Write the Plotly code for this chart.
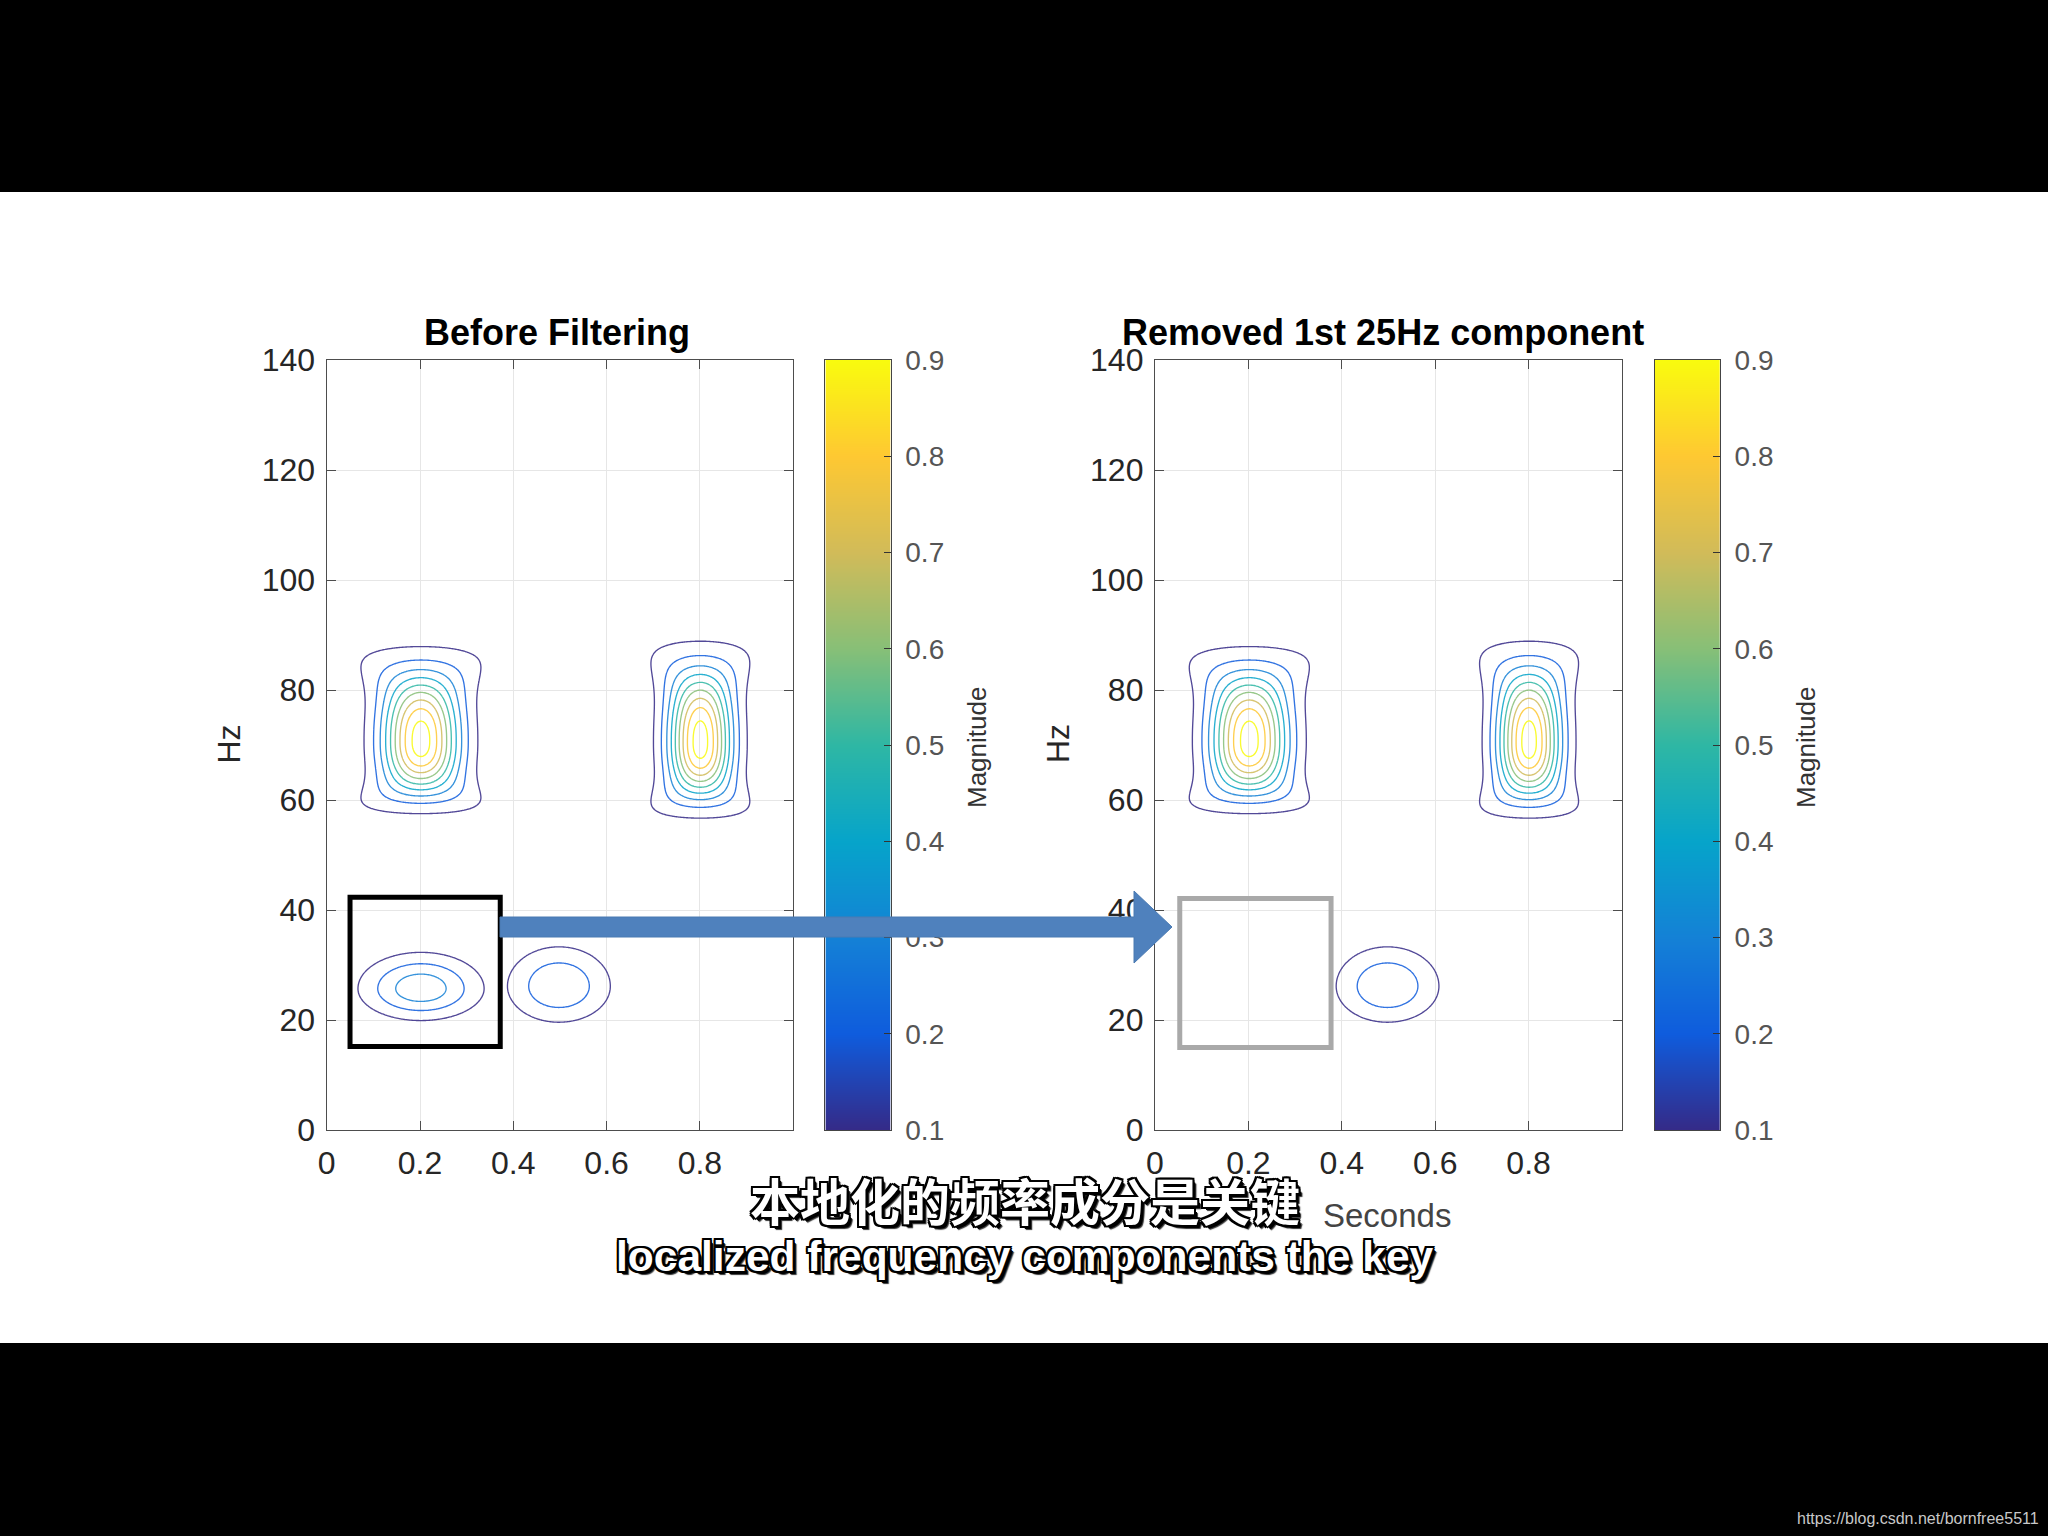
import numpy as np
import plotly.graph_objects as go

W, H = 2048, 1536

# ---------------- data ----------------
time_s = np.round(np.arange(0, 1.0001, 0.0025), 4)      # Seconds grid
freq_hz = np.round(np.arange(0, 140.001, 0.25), 3)      # Hz grid

# localized frequency components (centre time, centre freq, peak magnitude, spreads)
comp_t0 = [0.202, 0.801, 0.202, 0.498]
comp_f0 = [70.7, 70.5, 25.7, 26.15]
comp_amp = [0.95, 0.95, 0.37, 0.29]
comp_t_spread = [0.0813, 0.067, 0.118, 0.1066]
comp_f_spread_up = [12.26, 13.1, 5.77, 6.93]
comp_f_spread_down = [9.4, 9.84, 5.07, 6.35]
comp_f_shape = [2.4, 2.4, 2.0, 2.0]
comp_t_flare = [0.4, 0.4, 0.0, 0.0]

before_components = [0, 1, 2, 3]
after_components = [0, 1, 3]          # 1st 25 Hz component removed

contour_levels = [0.1, 0.2, 0.3, 0.4, 0.5, 0.6, 0.7, 0.8, 0.9]
x_ticks = [0, 0.2, 0.4, 0.6, 0.8]
x_tick_text = ["0", "0.2", "0.4", "0.6", "0.8"]
y_ticks = [0, 20, 40, 60, 80, 100, 120, 140]
cbar_ticks = [0.1, 0.2, 0.3, 0.4, 0.5, 0.6, 0.7, 0.8, 0.9]
cbar_levels = [0.1, 0.9]

removed_box_t = [0.05, 0.372]
removed_box_f = [15.2, 42.3]
empty_box_t = [0.053, 0.377]
empty_box_f = [15.0, 42.1]

title_left = "Before Filtering"
title_right = "Removed 1st 25Hz component"
subtitle_zh = "本地化的频率成分是关键"
subtitle_en = "localized frequency components the key"
watermark = "https://blog.csdn.net/bornfree5511"

parula = [
    [0.0, "#352a87"], [0.125, "#0f5cdd"], [0.25, "#1481d6"], [0.375, "#06a4ca"],
    [0.5, "#2eb7a4"], [0.625, "#87bf77"], [0.75, "#d1bb59"], [0.875, "#fec832"],
    [1.0, "#f9fb0e"],
]


def magnitude(components):
    T, F = np.meshgrid(time_s, freq_hz)
    acc = np.zeros_like(T)
    for i in components:
        df = F - comp_f0[i]
        s = np.where(df >= 0, comp_f_spread_up[i], comp_f_spread_down[i])
        r = np.abs(df) / s
        st = comp_t_spread[i] * (1 + comp_t_flare[i] * r ** 4)
        zi = comp_amp[i] * np.exp(-((T - comp_t0[i]) / st) ** 2 - r ** comp_f_shape[i])
        acc += zi ** 3
    return acc ** (1 / 3)


def px(x):
    return x / W


def py(y):
    return 1 - y / H


FONT = "Liberation Sans, Arial, Helvetica, sans-serif"
AX_DARK = "#262626"
AX_LINE = "#4d4d4d"

fig = go.Figure()

for comps, xa, ya in [(before_components, "x", "y"), (after_components, "x2", "y2")]:
    fig.add_trace(go.Contour(
        x=time_s, y=freq_hz, z=magnitude(comps),
        contours=dict(start=contour_levels[0], end=contour_levels[-1],
                      size=0.1, coloring="lines"),
        colorscale=parula, zauto=False, zmin=0.1, zmax=0.9,
        line=dict(width=1.35), opacity=0.85, showscale=False, hoverinfo="skip",
        xaxis=xa, yaxis=ya,
    ))

for xa, ya in [("x3", "y3"), ("x4", "y4")]:
    fig.add_trace(go.Heatmap(
        x=[0, 1], y=cbar_levels, z=[[v, v] for v in cbar_levels],
        colorscale=parula, zmin=0.1, zmax=0.9, zsmooth="best",
        showscale=False, hoverinfo="skip", xaxis=xa, yaxis=ya,
    ))

ydom = [py(1130), py(360)]
axes_x = {"x": [326.7, 793.2], "x2": [1155.0, 1622.0]}
cbar_x = {"x3": [825.4, 890.7], "x4": [1654.7, 1720.0]}

common_x = dict(range=[0, 1], tickvals=x_ticks, ticktext=x_tick_text, ticks="inside",
                ticklen=9, tickwidth=1.3, tickcolor=AX_LINE, showline=True,
                linecolor=AX_LINE, linewidth=1.3, mirror="ticks", showgrid=True,
                gridcolor="#e6e6e6", gridwidth=1.2, zeroline=False, automargin=False,
                tickfont=dict(family=FONT, size=32, color=AX_DARK), ticklabelstandoff=4)
common_y = dict(range=[0, 140], tickvals=y_ticks, ticks="inside", ticklen=9,
                tickwidth=1.3, tickcolor=AX_LINE, showline=True, linecolor=AX_LINE,
                linewidth=1.3, mirror="ticks", showgrid=True, gridcolor="#e6e6e6",
                gridwidth=1.2, zeroline=False, domain=ydom, automargin=False,
                tickfont=dict(family=FONT, size=32, color=AX_DARK), ticklabelstandoff=4)

cb_x = dict(range=[0, 1], showticklabels=False, ticks="", showgrid=False,
            zeroline=False, showline=True, linecolor="#444", linewidth=1, mirror=True,
            automargin=False)
cb_y = dict(range=[0.1, 0.9], tickvals=cbar_ticks, side="right", ticks="inside",
            ticklen=7, tickwidth=1.2, tickcolor="#333", showline=True, linecolor="#444",
            linewidth=1, mirror=True, showgrid=False, zeroline=False, domain=ydom,
            automargin=False,
            tickfont=dict(family=FONT, size=28, color="#555"), ticklabelstandoff=8)

fig.update_layout(
    xaxis=dict(domain=[px(axes_x["x"][0]), px(axes_x["x"][1])], anchor="y", **common_x),
    yaxis=dict(anchor="x", **common_y),
    xaxis2=dict(domain=[px(axes_x["x2"][0]), px(axes_x["x2"][1])], anchor="y2", **common_x),
    yaxis2=dict(anchor="x2", **common_y),
    xaxis3=dict(domain=[px(cbar_x["x3"][0]), px(cbar_x["x3"][1])], anchor="y3", **cb_x),
    yaxis3=dict(anchor="x3", **cb_y),
    xaxis4=dict(domain=[px(cbar_x["x4"][0]), px(cbar_x["x4"][1])], anchor="y4", **cb_x),
    yaxis4=dict(anchor="x4", **cb_y),
)

shapes = [
    # white slide area between the black video bars
    dict(type="rect", xref="paper", yref="paper", x0=0, x1=1, y0=py(1343), y1=py(192),
         fillcolor="white", line=dict(width=0), layer="below"),
    dict(type="rect", xref="x", yref="y", x0=removed_box_t[0], x1=removed_box_t[1],
         y0=removed_box_f[0], y1=removed_box_f[1], line=dict(color="black", width=5),
         layer="above"),
    dict(type="rect", xref="x2", yref="y2", x0=empty_box_t[0], x1=empty_box_t[1],
         y0=empty_box_f[0], y1=empty_box_f[1], line=dict(color="#a9a9a9", width=5),
         layer="above"),
]
# arrow from removed component box to empty box
ax0, axh, axt = 500, 1134, 1172
ay_c, ay_half, ah_half = 927, 10, 36
arrow_path = (
    f"M {px(ax0)},{py(ay_c - ay_half)} L {px(axh)},{py(ay_c - ay_half)} "
    f"L {px(axh)},{py(ay_c - ah_half)} L {px(axt)},{py(ay_c)} "
    f"L {px(axh)},{py(ay_c + ah_half)} L {px(axh)},{py(ay_c + ay_half)} "
    f"L {px(ax0)},{py(ay_c + ay_half)} Z"
)
shapes.append(dict(type="path", xref="paper", yref="paper", path=arrow_path,
                   fillcolor="#4F81BD", line=dict(color="#4A7AB2", width=1), layer="above"))

outline = ("3px 3px 0 #000, -2px -2px 0 #000, 2px -2px 0 #000, -2px 2px 0 #000, "
           "2px 2px 0 #000, 0 -2px 0 #000, 0 2px 0 #000, -2px 0 0 #000, 2px 0 0 #000, "
           "4px 4px 1px #333")

annotations = [
    dict(text=f"<b>{title_left}</b>", x=px(557), y=py(332)),
    dict(text=f"<b>{title_right}</b>", x=px(1383), y=py(332)),
]
for a in annotations:
    a.update(xref="paper", yref="paper", showarrow=False, xanchor="center", yanchor="middle",
             font=dict(family=FONT, size=36, color="black"))
for xh in [228.5, 1058]:
    annotations.append(dict(text="Hz", x=px(xh), y=py(744), xref="paper", yref="paper",
                            showarrow=False, textangle=-90, xanchor="center",
                            yanchor="middle", font=dict(family=FONT, size=32, color=AX_DARK)))
for xm in [977, 1806]:
    annotations.append(dict(text="Magnitude", x=px(xm), y=py(748), xref="paper",
                            yref="paper", showarrow=False, textangle=-90,
                            xanchor="center", yanchor="middle",
                            font=dict(family=FONT, size=26, color="#333")))
annotations.append(dict(text="Seconds", x=px(1387), y=py(1215), xref="paper", yref="paper",
                        showarrow=False, xanchor="center", yanchor="middle",
                        font=dict(family=FONT, size=33, color="#444")))
annotations.append(dict(text=f"<b>{subtitle_zh}</b>", x=px(1025), y=py(1199), xref="paper",
                        yref="paper", showarrow=False, xanchor="center", yanchor="middle",
                        font=dict(family="Noto Sans CJK SC", size=50, color="white",
                                  shadow=outline)))
annotations.append(dict(text=f"<b>{subtitle_en}</b>", x=px(1025), y=py(1256), xref="paper",
                        yref="paper", showarrow=False, xanchor="center", yanchor="middle",
                        font=dict(family=FONT, size=42.5, color="white", shadow=outline)))
annotations.append(dict(text=watermark, x=px(2041), y=py(1518), xref="paper", yref="paper",
                        showarrow=False, xanchor="right", yanchor="middle",
                        font=dict(family=FONT, size=16, color="#c8c8c8")))

fig.update_layout(
    width=W, height=H, autosize=False,
    margin=dict(l=0, r=0, t=0, b=0, pad=0, autoexpand=False),
    paper_bgcolor="black", plot_bgcolor="white",
    showlegend=False, shapes=shapes, annotations=annotations,
)

fig.write_html("out.html")
